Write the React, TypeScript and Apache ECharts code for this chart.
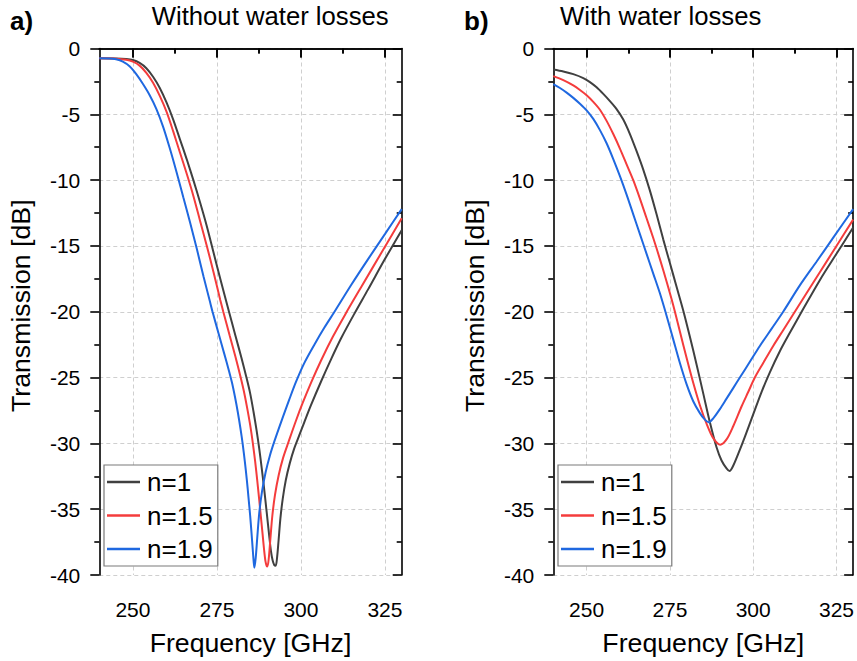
import { useEffect, useRef } from 'react';
import * as echarts from 'echarts';

const FONT = "'Liberation Sans', Arial, Helvetica, sans-serif";

const seriesNames = ['n=1', 'n=1.5', 'n=1.9'];
const seriesColors = ['#404040', '#f43c3c', '#1f68e0'];
const panelTitles = ['Without water losses', 'With water losses'];
const panelLetters = ['a)', 'b)'];
const xMajorTicks = [250, 275, 300, 325];
const xMinorTicks = [262.5, 287.5, 312.5];
const xRange = [240, 330];
const yRange = [-40, 0];
const yStep = 5;
const xTitle = 'Frequency [GHz]';
const yTitle = 'Transmission [dB]';

type Pt = [number, number];

// Panel a) Without water losses
const dryN1: Pt[] = [
  [240, -0.75], [245, -0.76], [248, -0.8], [250, -0.88], [252, -1.1], [254, -1.5], [256, -2.15],
  [258, -3.0], [260, -4.1], [262, -5.4], [264, -6.9], [266, -8.4], [268, -10.0], [270, -11.7],
  [272, -13.5], [274, -15.5], [276, -17.5], [278.6, -20.0], [280.5, -21.8], [282.3, -23.5],
  [283.7, -24.9], [284.9, -26.2], [285.9, -27.6], [286.8, -29.0], [287.6, -30.4], [288.3, -31.8],
  [288.95, -33.2], [289.55, -34.6], [290.1, -35.9], [290.6, -37.1], [291.1, -38.2], [291.6, -38.9],
  [292.1, -39.25], [292.5, -39.3], [292.9, -38.7], [293.35, -37.4], [293.9, -35.7], [294.6, -34.2],
  [295.5, -32.8], [296.7, -31.5], [298, -30.4], [299.5, -29.4], [301, -28.4], [303, -27.1],
  [306, -25.3], [309, -23.6], [312, -22.0], [315.8, -20.2], [320, -18.3], [325, -16.0], [330, -13.8],
];
const dryN15: Pt[] = [
  [240, -0.75], [245, -0.77], [248, -0.85], [250, -1.0], [252, -1.3], [254, -1.85], [256, -2.6],
  [258, -3.6], [260, -4.8], [262, -6.3], [264, -7.9], [266, -9.5], [268, -11.2], [270, -13.1],
  [272, -15.0], [274, -17.0], [276, -19.1], [276.9, -20.0], [278.8, -21.8], [280.5, -23.4],
  [281.9, -24.8], [283, -26.0], [284, -27.3], [284.9, -28.6], [285.7, -30.0], [286.4, -31.4],
  [287, -32.8], [287.6, -34.3], [288.1, -35.6], [288.6, -36.9], [289.05, -38.1], [289.45, -38.95],
  [289.8, -39.3], [290.05, -39.35], [290.45, -38.7], [290.9, -37.3], [291.5, -35.5], [292.3, -33.9],
  [293.4, -32.4], [294.7, -31.1], [296.3, -29.9], [298.5, -28.3], [300.5, -26.95], [303, -25.4],
  [306, -23.7], [309.5, -21.9], [313.2, -20.2], [318, -18.1], [324, -15.5], [330, -12.9],
];
const dryN19: Pt[] = [
  [240, -0.75], [243, -0.76], [245, -0.82], [247, -1.0], [249, -1.35], [251, -1.95], [253, -2.7],
  [255, -3.55], [257, -4.6], [259, -5.95], [261, -7.6], [263, -9.4], [265, -11.3], [267, -13.2],
  [269, -15.2], [271, -17.3], [273, -19.3], [273.7, -20.0], [275.5, -21.65], [277.2, -23.2],
  [278.5, -24.4], [279.5, -25.4], [280.4, -26.5], [281.2, -27.6], [282, -28.85], [282.7, -30.1],
  [283.3, -31.35], [283.9, -32.75], [284.4, -34.1], [284.9, -35.5], [285.3, -36.8], [285.65, -38.0],
  [285.95, -39.0], [286.15, -39.45], [286.55, -38.7], [287, -37.2], [287.6, -35.3], [288.4, -33.7],
  [289.5, -32.2], [290.8, -30.9], [292.1, -29.85], [294.5, -28.1], [296.5, -26.7], [298.5, -25.35],
  [301, -23.9], [304, -22.5], [307, -21.2], [310, -20.0], [315, -17.95], [320, -16.0],
  [325, -14.1], [330, -12.2],
];

// Panel b) With water losses
const wetN1: Pt[] = [
  [240, -1.6], [243, -1.75], [246, -1.95], [249, -2.25], [251, -2.55], [253, -2.95], [255, -3.45],
  [257, -4.0], [259, -4.6], [261, -5.4], [263, -6.5], [265, -7.8], [267, -9.2], [269, -10.8],
  [271, -12.6], [273, -14.5], [275, -16.3], [277, -18.1], [279, -19.9], [281, -21.9], [283, -24.0],
  [285, -26.2], [287, -28.4], [289, -30.3], [290.5, -31.3], [292, -31.9], [292.9, -32.1],
  [294, -31.7], [295.5, -30.8], [297.5, -29.5], [300, -27.8], [302.5, -26.1], [305, -24.6],
  [308, -23.0], [311, -21.6], [315, -19.8], [320, -17.6], [325, -15.6], [330, -13.6],
];
const wetN15: Pt[] = [
  [240, -2.1], [243, -2.4], [246, -2.8], [248, -3.15], [250, -3.55], [252, -4.05], [254, -4.65],
  [256, -5.5], [258, -6.5], [260, -7.6], [262, -8.8], [264, -10.0], [266, -11.4], [268, -12.9],
  [270, -14.4], [272, -16.0], [274, -17.7], [276, -19.5], [278, -21.5], [280, -23.5], [282, -25.4],
  [284, -27.1], [286, -28.5], [288, -29.6], [290.1, -30.1], [292, -29.7], [294, -28.7],
  [296.5, -27.2], [298.5, -26.1], [300.5, -25.0], [303, -23.9], [306, -22.6], [309, -21.4],
  [312.5, -20.0], [316, -18.6], [320, -17.0], [325, -15.0], [330, -13.0],
];
const wetN19: Pt[] = [
  [240, -2.7], [242, -3.0], [244, -3.35], [246, -3.75], [248, -4.2], [250, -4.7], [252, -5.35],
  [254, -6.2], [256, -7.2], [258, -8.4], [260, -9.7], [262, -11.1], [264, -12.6], [266, -14.1],
  [268, -15.6], [270, -17.1], [272, -18.6], [274, -20.3], [276, -22.1], [278, -23.9], [280, -25.5],
  [282, -26.8], [284, -27.7], [285.5, -28.2], [286.6, -28.4], [288, -28.1], [290, -27.4],
  [292, -26.6], [294, -25.8], [296, -25.0], [299, -23.8], [302, -22.6], [305.5, -21.3],
  [309, -20.0], [314, -18.0], [319, -16.2], [324.5, -14.2], [330, -12.2],
];

const panelData: Pt[][][] = [
  [dryN1, dryN15, dryN19],
  [wetN1, wetN15, wetN19],
];

function buildOption() {
  const grids = [
    { left: 99.3, top: 48.5, width: 302.4, height: 528 },
    { left: 553.3, top: 48.5, width: 302.4, height: 528 },
  ];
  const axisLine = { show: true, lineStyle: { color: '#000', width: 1.6 } };
  const tickLine = { color: '#000', width: 1.6 };
  const splitLine = { show: true, lineStyle: { color: '#cfcfcf', width: 1, type: [4, 3] as any } };

  const xAxis: any[] = [];
  const yAxis: any[] = [];
  const series: any[] = [];
  const legend: any[] = [];
  const graphic: any[] = [];

  grids.forEach((g, gi) => {
    const base = { type: 'value', gridIndex: gi, min: xRange[0], max: xRange[1] };
    xAxis.push({
      ...base, position: 'bottom', axisLine,
      axisTick: { show: true, customValues: xMajorTicks, length: 9, lineStyle: tickLine },
      axisLabel: { show: true, customValues: xMajorTicks, fontSize: 21, color: '#000', fontFamily: FONT, margin: 24 },
      splitLine,
      name: xTitle, nameLocation: 'middle', nameGap: 54,
      nameTextStyle: { fontSize: 26.7, color: '#000', fontFamily: FONT },
    });
    xAxis.push({
      ...base, position: 'bottom', axisLine: { show: false },
      axisTick: { show: true, customValues: xMinorTicks, length: 5, lineStyle: tickLine },
      axisLabel: { show: false }, splitLine: { show: false },
    });
    xAxis.push({
      ...base, position: 'top', axisLine,
      axisTick: { show: true, inside: true, customValues: xMajorTicks, length: 9, lineStyle: tickLine },
      axisLabel: { show: false }, splitLine: { show: false },
    });
    xAxis.push({
      ...base, position: 'top', axisLine: { show: false },
      axisTick: { show: true, inside: true, customValues: xMinorTicks, length: 5, lineStyle: tickLine },
      axisLabel: { show: false }, splitLine: { show: false },
    });

    const ybase = { type: 'value', gridIndex: gi, min: yRange[0], max: yRange[1], interval: yStep };
    yAxis.push({
      ...ybase, position: 'left', axisLine,
      axisTick: { show: true, length: 9, lineStyle: tickLine },
      minorTick: { show: true, splitNumber: 2, length: 5, lineStyle: tickLine },
      axisLabel: { show: true, fontSize: 21, color: '#000', fontFamily: FONT, margin: 19 },
      splitLine,
      name: yTitle, nameLocation: 'middle', nameGap: 65,
      nameTextStyle: { fontSize: 26.7, color: '#000', fontFamily: FONT, padding: [0, 0, 0, 12] },
    });
    yAxis.push({
      ...ybase, position: 'right', axisLine,
      axisTick: { show: true, inside: true, length: 9, lineStyle: tickLine },
      minorTick: { show: true, splitNumber: 2, length: 5, lineStyle: tickLine },
      axisLabel: { show: false }, splitLine: { show: false },
    });

    panelData[gi].forEach((data, si) => {
      series.push({
        type: 'line', name: seriesNames[si], xAxisIndex: gi * 4, yAxisIndex: gi * 2,
        data, smooth: 0.3, symbol: 'none', showSymbol: false, clip: true,
        lineStyle: { color: seriesColors[si], width: 2 }, itemStyle: { color: seriesColors[si] },
        z: 3,
      });
    });

    legend.push({
      show: true, orient: 'vertical', left: g.left + 4.7, top: 465,
      data: seriesNames, icon: 'rect', itemWidth: 33, itemHeight: 2.4, itemGap: 7.5,
      padding: [4, 5, 4, 3], borderColor: '#7a7a7a', borderWidth: 1.2, backgroundColor: '#fff',
      selectedMode: false,
      textStyle: { fontSize: 26, lineHeight: 26, color: '#000', fontFamily: FONT, padding: [0, 0, 0, 2] },
    });
  });

  graphic.push(
    { type: 'text', x: 10, y: 21, style: { text: panelLetters[0], fontSize: 26, fontWeight: 'bold', fontFamily: FONT, fill: '#000', verticalAlign: 'middle' } },
    { type: 'text', x: 151.7, y: 16, style: { text: panelTitles[0], fontSize: 25.7, fontFamily: FONT, fill: '#000', verticalAlign: 'middle' } },
    { type: 'text', x: 464, y: 21, style: { text: panelLetters[1], fontSize: 26, fontWeight: 'bold', fontFamily: FONT, fill: '#000', verticalAlign: 'middle' } },
    { type: 'text', x: 560, y: 16, style: { text: panelTitles[1], fontSize: 25.7, fontFamily: FONT, fill: '#000', verticalAlign: 'middle' } },
  );

  return {
    animation: false,
    backgroundColor: '#fff',
    textStyle: { fontFamily: FONT },
    grid: grids,
    xAxis, yAxis, series, legend, graphic,
  };
}

export default function App() {
  const ref = useRef<HTMLDivElement>(null);
  useEffect(() => {
    document.body.style.margin = '0';
    const chart = echarts.init(ref.current!, undefined, { renderer: 'svg' });
    chart.setOption(buildOption() as any);
    return () => chart.dispose();
  }, []);
  return <div ref={ref} style={{ width: 857, height: 661 }} />;
}
